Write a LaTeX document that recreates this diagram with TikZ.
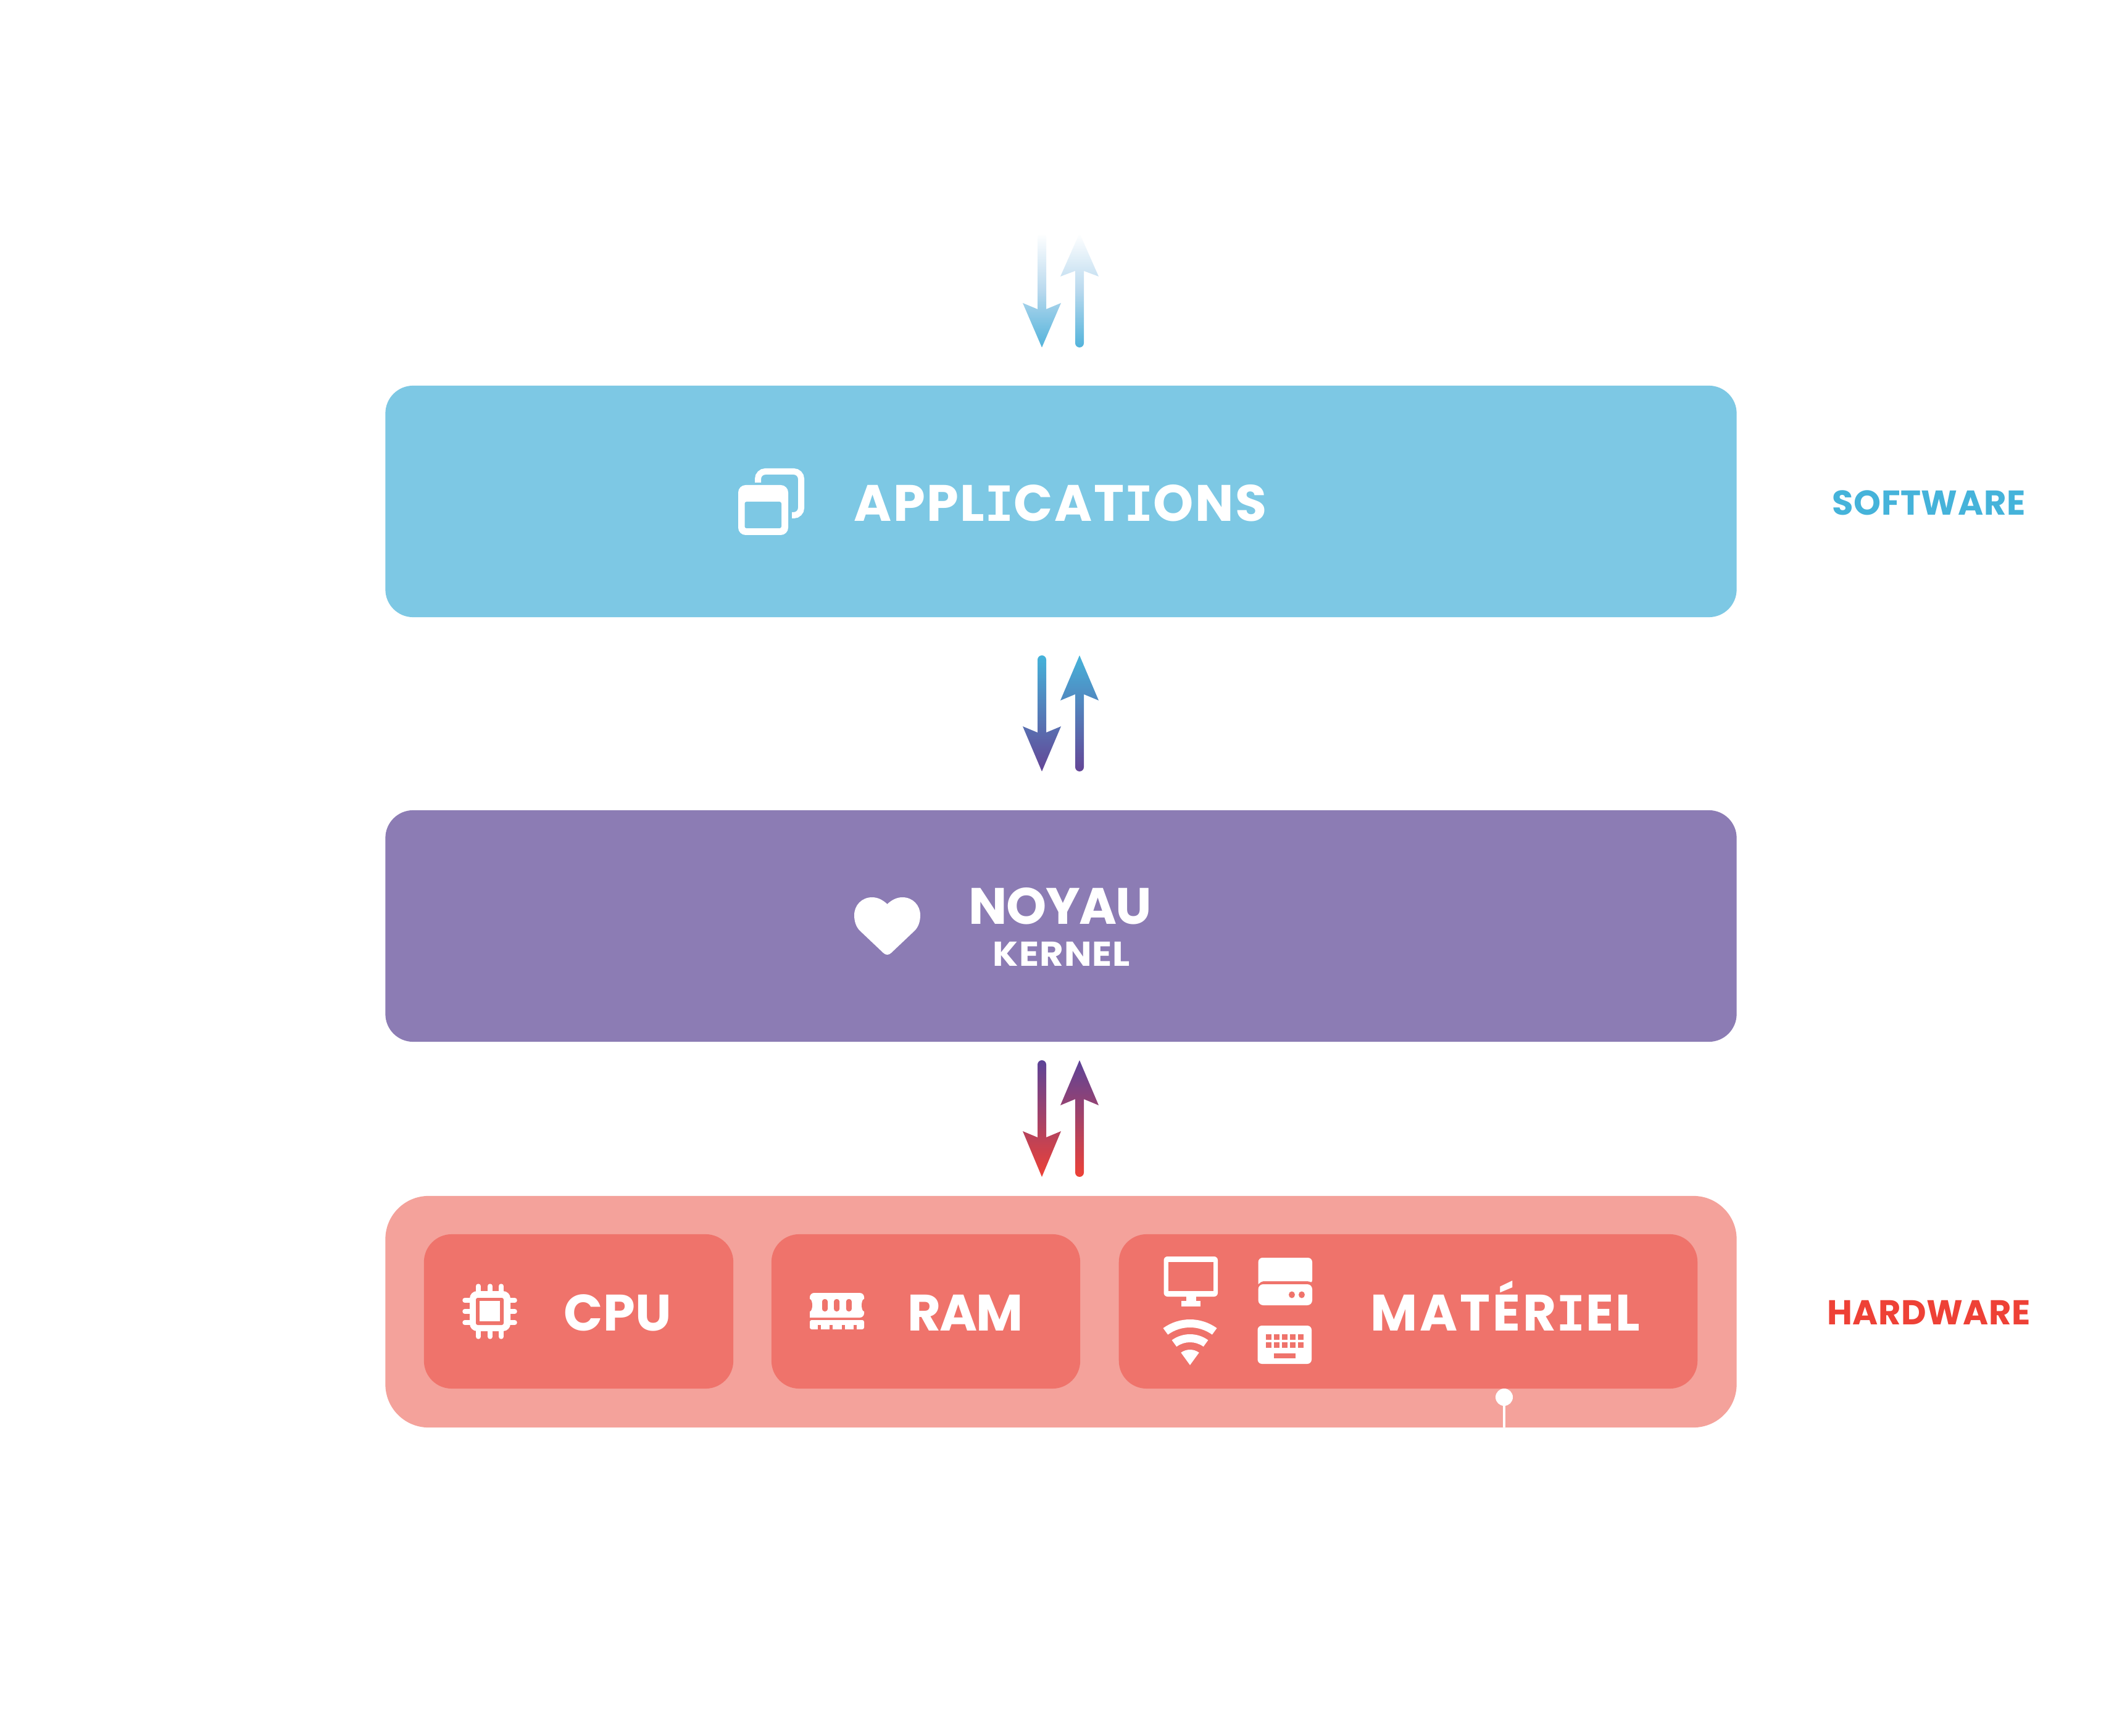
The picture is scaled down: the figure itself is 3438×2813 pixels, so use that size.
\documentclass[tikz,border=0pt]{standalone}
\usepackage{fontspec}
\setmainfont{Poppins}
\newfontfamily\serifface{DejaVu Sans Mono}[Scale=0.95]
\newcommand\serifI{{\serifface\bfseries I}}
\newfontfamily\popA{Poppins}[LetterSpace=3]
\newfontfamily\popB{Poppins}[LetterSpace=1]
\newfontfamily\popC{Poppins}[LetterSpace=2,FakeStretch=1.06]
\newfontfamily\popD{Poppins}[LetterSpace=-2]
\newfontfamily\popE{Poppins}[LetterSpace=0.5]
\newfontfamily\popF{Poppins}[LetterSpace=-2.8]
\newfontfamily\popG{Poppins}[LetterSpace=4.7]
\definecolor{appblue}{HTML}{7DC8E4}
\definecolor{kerpurple}{HTML}{8C7CB4}
\definecolor{hwpink}{HTML}{F4A29B}
\definecolor{hwred}{HTML}{EF736B}
\definecolor{swblue}{HTML}{45B3DA}
\definecolor{hwtext}{HTML}{EE4136}
\definecolor{midpurple}{HTML}{644596}
\definecolor{lowpurple}{HTML}{5C4398}
\definecolor{fadebottom}{HTML}{52B3DB}
\definecolor{fademid}{HTML}{B9D9EE}
\tikzset{
  layerbox/.style={inner sep=0pt,outer sep=0pt,draw=none,rounded corners=0.45cm,minimum width=21.88cm,minimum height=3.75cm},
  hwbox/.style={inner sep=0pt,outer sep=0pt,draw=none,fill=hwred,rounded corners=0.45cm,minimum height=2.5cm},
  biglabel/.style={anchor=base,inner sep=0pt,text=white,font=\fontsize{23.6}{24}#1\bfseries},
  smalllabel/.style={anchor=base,inner sep=0pt,font=\fontsize{15.9}{16}#1\bfseries},
  fadegrad/.style={top color=white,bottom color=fadebottom,middle color=fademid},
  bluegrad/.style={top color=swblue,bottom color=midpurple},
  redgrad/.style={top color=lowpurple,bottom color=hwtext},
}
% cx, top, tip, wing, notch, gradient style
\newcommand\arrowDn[6]{\path[#6,draw=none]
  ({#1-7},{#2+7}) arc[start angle=180,end angle=360,radius=7] -- ({#1+7},#5) -- ({#1+31},#4) -- (#1,#3) -- ({#1-31},#4) -- ({#1-7},#5) -- cycle;}
% cx, bottom, tip, wing, notch, gradient style
\newcommand\arrowUp[6]{\path[#6,draw=none]
  (#1,#3) -- ({#1+31},#4) -- ({#1+7},#5) -- ({#1+7},{#2-7}) arc[start angle=0,end angle=180,radius=7] -- ({#1-7},#5) -- ({#1-31},#4) -- cycle;}
\begin{document}
\begin{tikzpicture}[x=0.01cm,y=-0.01cm]
\useasboundingbox (0,0) rectangle (3438,2813);
\fill[white] (0,0) rectangle (3438,2813);
% layers
\node[layerbox,fill=appblue] (apps) at (1719,812.5) {};
\node[layerbox,fill=kerpurple] (kernel) at (1719,1500.5) {};
\node[layerbox,fill=hwpink,rounded corners=0.7cm] (hardware) at (1719,2125.5) {};
\node[hwbox,minimum width=5.01cm] (cpu) at (937.5,2125) {};
\node[hwbox,minimum width=5.00cm] (ram) at (1500,2125) {};
\node[hwbox,minimum width=9.37cm] (mat) at (2281.5,2125) {};
% labels
\node[biglabel=\popA] (appstxt) at (1718,845) {APPL\serifI CAT\serifI ONS};
\node[biglabel=\popD] (noyautxt) at (1718,1498) {NOYAU};
\node[smalllabel=\popC,text=white] (kerneltxt) at (1720,1565) {KERNEL};
\node[biglabel=\popE] (cputxt) at (1001,2156) {CPU};
\node[biglabel=\popF] (ramtxt) at (1564,2156) {RAM};
\node[biglabel=\popG] (mattxt) at (2439,2156) {MAT\'ER\serifI EL};
\node[smalllabel=\popB,text=swblue] (swtxt) at (3125,835) {SOFTWARE};
\node[smalllabel=\popB,text=hwtext] (hwtxt) at (3125,2146) {HARDWARE};
% arrows
\arrowDn{1688}{378}{563}{491}{501}{fadegrad}
\arrowUp{1749}{563}{378}{448}{439}{fadegrad}
\arrowDn{1688}{1062}{1250}{1177}{1187}{bluegrad}
\arrowUp{1749}{1250}{1062}{1135}{1125}{bluegrad}
\arrowDn{1688}{1718}{1907}{1833}{1843}{redgrad}
\arrowUp{1749}{1907}{1718}{1791}{1781}{redgrad}
% window icon
\draw[white,line width=0.1cm,rounded corners=0.12cm] (1228,782) -- (1228,764) -- (1298,764) -- (1298,835) -- (1283,835);
\fill[white,rounded corners=0.12cm] (1196,786) rectangle (1277,867);
\fill[appblue,rounded corners=0.03cm] (1206.5,813) rectangle (1266,856);
% heart
\fill[white] (1437.5,1465) .. controls (1430,1458) and (1422,1454) .. (1413,1454)
  .. controls (1396,1454) and (1384,1467) .. (1384,1483)
  .. controls (1384,1493) and (1387,1502) .. (1393,1508)
  -- (1431,1544) .. controls (1435,1548) and (1440,1548) .. (1444,1544)
  -- (1482,1508) .. controls (1488,1502) and (1491,1493) .. (1491,1483)
  .. controls (1491,1467) and (1479,1454) .. (1462,1454)
  .. controls (1453,1454) and (1445,1458) .. (1437.5,1465) -- cycle;
% cpu icon
\foreach \p in {775,794,812}{
  \draw[white,line width=0.075cm,line cap=round] (\p,2084) -- (\p,2096);
  \draw[white,line width=0.075cm,line cap=round] (\p,2154) -- (\p,2166);}
\foreach \p in {2107,2125,2143}{
  \draw[white,line width=0.075cm,line cap=round] (753,\p) -- (765,\p);
  \draw[white,line width=0.075cm,line cap=round] (823,\p) -- (834,\p);}
\fill[white,rounded corners=0.12cm] (761,2092) rectangle (827,2157);
\fill[hwred,rounded corners=0.03cm] (771,2103) rectangle (816,2147);
\fill[white] (777,2108) rectangle (810,2141);
% ram icon
\fill[white,rounded corners=0.07cm] (1312,2135) -- (1312,2095) -- (1400,2095) -- (1400,2135) [sharp corners] -- cycle;
\fill[hwred] (1312,2115) ellipse[x radius=4,y radius=10];
\fill[hwred] (1400,2115) ellipse[x radius=4,y radius=10];
\foreach \p in {1336.5,1355.6,1375.4}{
  \fill[hwred,rounded corners=0.04cm] ({\p-4.5},2105) rectangle ({\p+4.5},2125);}
\fill[white,rounded corners=0.03cm] (1312,2139) -- (1400,2139) -- (1400,2154) -- (1312,2154) -- cycle;
\foreach \p in {1327,1346,1366,1385}{
  \fill[hwred] ({\p-2.5},2155) rectangle ({\p+2.5},2147);
}
% monitor icon
\fill[white,rounded corners=0.06cm] (1885.5,2036) rectangle (1973,2101);
\fill[hwred] (1893,2045) rectangle (1966,2092);
\fill[white] (1922,2100) rectangle (1938,2109);
\fill[white] (1913.5,2108) rectangle (1945,2117);
% server icon
\fill[white,rounded corners=0.07cm] (2038.6,2081) -- (2038.6,2038) -- (2126,2038) -- (2126,2081) [sharp corners] .. controls (2122,2077) .. (2118,2076) -- (2047,2076) .. controls (2043,2077) .. (2038.6,2081) -- cycle;
\fill[white,rounded corners=0.08cm] (2038.6,2081) rectangle (2126,2115);
\fill[hwred] (2093,2098) ellipse[x radius=5,y radius=5.5];
\fill[hwred] (2109,2098) ellipse[x radius=5,y radius=5.5];
% wifi icon
\begin{scope}[shift={(1928,2212)}]
\fill[white] (-126:74) arc[start angle=-126,end angle=-54,radius=74] -- (-54:61) arc[start angle=-54,end angle=-126,radius=61] -- cycle;
\fill[white] (-126:50) arc[start angle=-126,end angle=-54,radius=50] -- (-54:37) arc[start angle=-54,end angle=-126,radius=37] -- cycle;
\fill[white] (-126:25) arc[start angle=-126,end angle=-54,radius=25] -- (0,0) -- cycle;
\end{scope}
% keyboard icon
\fill[white,rounded corners=0.07cm] (2037.5,2148) rectangle (2125,2210);
\foreach \p in {2051,2064,2077,2090,2103}{
  \fill[hwred] (\p,2162) rectangle ({\p+9},2171);
  \fill[hwred] (\p,2175) rectangle ({\p+9},2184);}
\fill[hwred] (2064,2193) rectangle (2099,2201);
% pin
\coordinate (pinend) at (2437,2313);
\node[circle,fill=white,inner sep=0pt,outer sep=0pt,minimum size=0.28cm] (pin) at (2437,2264) {};
\draw[white,line width=0.04cm] (pin) -- (pinend);
\end{tikzpicture}
\end{document}
